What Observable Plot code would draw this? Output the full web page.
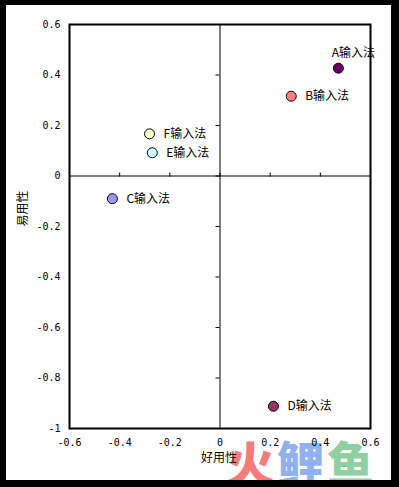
<!DOCTYPE html>
<html>
<head>
<meta charset="utf-8">
<script src="https://cdn.jsdelivr.net/npm/d3@7"></script>
<script src="https://cdn.jsdelivr.net/npm/@observablehq/plot@0.6"></script>
<style>
  html, body { margin: 0; padding: 0; background: #fff; }
  #wrap { position: relative; width: 399px; height: 487px; background: #fff; overflow: hidden; }
  #chart { position: absolute; left: 0; top: 0; }
  #wm { position: absolute; left: 227px; top: 437px; font-family: "Noto Sans CJK SC", sans-serif; font-weight: 900; font-size: 47px; line-height: 1; white-space: nowrap; letter-spacing: 3px; }
  #border { position: absolute; left: 0; top: 0; width: 399px; height: 487px; box-sizing: border-box;
    border-style: solid; border-color: #000; border-width: 5px 8px 7px 6px; pointer-events: none; }
</style>
</head>
<body>
<div id="wrap">
  <div id="wm"><span style="color:#f77b78">火</span><span style="color:#8fb1ee">鲤</span><span style="color:#8fd0a2">鱼</span></div>
  <div id="chart"></div>
  <div id="border"></div>
</div>
<script>
const names = ["A输入法", "B输入法", "C输入法", "D输入法", "E输入法", "F输入法"];
const haoyong = [0.472, 0.284, -0.429, 0.213, -0.270, -0.281];   // 好用性 (x)
const yiyong  = [0.427, 0.316, -0.090, -0.912, 0.092, 0.167];    // 易用性 (y)
const colors  = ["#660066", "#ff8080", "#9999ff", "#993366", "#ccffff", "#ffffcc"];
const xTicks = [-0.6, -0.4, -0.2, 0, 0.2, 0.4, 0.6];
const yTicks = [-1, -0.8, -0.6, -0.4, -0.2, 0, 0.2, 0.4, 0.6];
const xLabel = "好用性";
const yLabel = "易用性";

const data = names.map((n, i) => ({name: n, x: haoyong[i], y: yiyong[i], color: colors[i]}));
const above = data.filter(d => d.name === "A输入法");
const right = data.filter(d => d.name !== "A输入法");
const fmt = d => String(d);
const tickFont = {fontFamily: "DejaVu Sans Mono, monospace", fontSize: 10, fill: "#000"};

const chart = Plot.plot({
  width: 399,
  height: 487,
  marginLeft: 69,
  marginRight: 29,
  marginTop: 24,
  marginBottom: 59,
  style: {background: "transparent", color: "#000"},
  x: {domain: [-0.6, 0.6], ticks: xTicks},
  y: {domain: [-1, 0.6], ticks: yTicks},
  marks: [
    Plot.ruleX([0], {stroke: "#000", strokeWidth: 1}),
    Plot.ruleY([0], {stroke: "#000", strokeWidth: 1}),
    // tick marks on the crossing zero lines
    Plot.axisY(yTicks, {anchor: "left", tickSize: 4, text: null, dx: 150.5, stroke: "#000", label: null}),
    Plot.axisX(xTicks, {anchor: "top", tickSize: 4, text: null, dy: 151.5, stroke: "#000", label: null}),
    // outer tick labels
    Plot.axisY(yTicks, {anchor: "left", tickSize: 0, tickPadding: 9, tickFormat: fmt, label: null, ...tickFont}),
    Plot.axisX(xTicks, {anchor: "bottom", tickSize: 0, tickPadding: 10, tickFormat: fmt, label: null, ...tickFont}),
    Plot.frame({stroke: "#000", strokeWidth: 2}),
    Plot.dot(data, {x: "x", y: "y", r: 5, fill: "color", stroke: "#000", strokeWidth: 1}),
    Plot.text(right, {x: "x", y: "y", text: "name", textAnchor: "start", dx: 14, fontSize: 12,
      fontFamily: "Noto Sans CJK SC, sans-serif", fill: "#000"}),
    Plot.text(above, {x: "x", y: "y", text: "name", textAnchor: "middle", dx: 15, dy: -15, fontSize: 12,
      fontFamily: "Noto Sans CJK SC, sans-serif", fill: "#000"}),
    Plot.text([xLabel], {frameAnchor: "bottom", dx: -1, dy: 33, fontSize: 12,
      fontFamily: "Noto Sans CJK SC, sans-serif", fill: "#000"}),
    Plot.text([yLabel], {frameAnchor: "left", rotate: -90, dx: -46, fontSize: 12,
      fontFamily: "Noto Sans CJK SC, sans-serif", fill: "#000"})
  ]
});
document.getElementById("chart").appendChild(chart);
</script>
</body>
</html>
